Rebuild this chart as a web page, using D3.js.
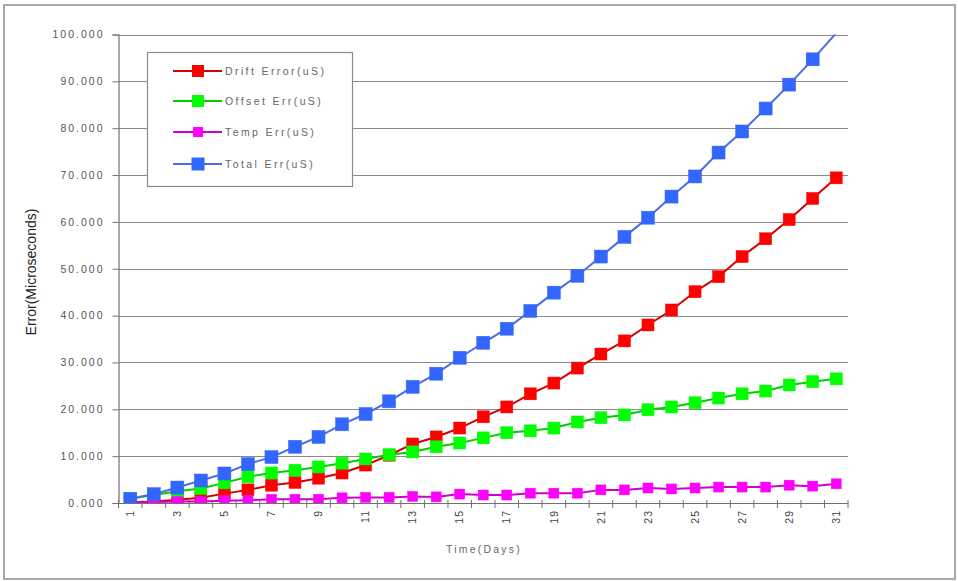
<!DOCTYPE html>
<html><head><meta charset="utf-8">
<script src="https://cdn.jsdelivr.net/npm/d3@7"></script>
<style>body{margin:0;background:#fff;}svg{display:block;font-family:"Liberation Sans",Arial,sans-serif;}</style>
</head><body><svg id="c" width="958" height="581"></svg>
<script>
const days = d3.range(1, 32);
const xTickLabels = [1,3,5,7,9,11,13,15,17,19,21,23,25,27,29,31];
const yTicks = [0,10,20,30,40,50,60,70,80,90,100];
const seriesNames = ["Drift Error(uS)", "Offset Err(uS)", "Temp Err(uS)", "Total Err(uS)"];
const drift  = [0.1,0.3,0.7,1.1,2.0,2.8,3.8,4.4,5.3,6.4,8.1,10.2,12.6,14.1,16.0,18.4,20.5,23.3,25.6,28.8,31.8,34.6,38.0,41.2,45.1,48.3,52.6,56.4,60.5,65.0,69.4];
const offset = [0.9,1.7,2.5,3.1,4.3,5.6,6.4,7.0,7.7,8.5,9.4,10.3,10.9,12.0,12.8,13.9,15.0,15.4,16.0,17.3,18.2,18.8,19.9,20.5,21.4,22.4,23.3,23.9,25.2,25.9,26.5];
const temp   = [0.1,0.2,0.3,0.3,0.5,0.6,0.8,0.8,0.8,1.1,1.2,1.2,1.4,1.3,1.9,1.7,1.7,2.1,2.1,2.1,2.8,2.8,3.2,3.0,3.2,3.4,3.4,3.4,3.8,3.6,4.1];
const total  = [0.9,1.9,3.3,4.8,6.3,8.3,9.8,12.0,14.1,16.8,19.0,21.7,24.8,27.6,31.0,34.2,37.2,41.0,44.9,48.5,52.6,56.8,60.9,65.4,69.7,74.8,79.3,84.2,89.3,94.7,100.3];

const styles = [
  {line:"#d40000", fill:"#ff0000", size:12},
  {line:"#00d000", fill:"#00ff00", size:12},
  {line:"#d000d0", fill:"#ff00ff", size:10},
  {line:"#4a6ee0", fill:"#3366ff", size:13}
];
const series = [drift, offset, temp, total].map((v,i)=>({name:seriesNames[i], values:v, style:styles[i]}));

const svg = d3.select("#c");
const L = 118.5, R = 848, T = 34.5, B = 503;
const x = d3.scaleBand().domain(days).range([L, R]).padding(0);
const xc = d => x(d) + x.bandwidth()/2;
const y = d3.scaleLinear().domain([0,100]).range([B, T]);

// outer frame
svg.append("rect").attr("x",4).attr("y",5).attr("width",951).attr("height",574)
  .attr("fill","none").attr("stroke","#a8a8a8").attr("stroke-width",2);

// gridlines
svg.append("g").selectAll("line").data(yTicks.filter(t=>t>0)).join("line")
  .attr("x1",L).attr("x2",R).attr("y1",d=>Math.round(y(d))+0.5).attr("y2",d=>Math.round(y(d))+0.5)
  .attr("stroke","#8a8a8a").attr("stroke-width",1.2);

// y axis
const yAxis = d3.axisLeft(y).tickValues(yTicks).tickFormat(d3.format(".3f")).tickSize(6).tickPadding(8);
const gy = svg.append("g").attr("transform",`translate(${L},0)`).call(yAxis);
gy.select(".domain").attr("stroke","#707070").attr("stroke-width",1.2);
gy.selectAll(".tick line").attr("stroke","#707070");
gy.selectAll(".tick text").attr("fill","#555").style("font-size","10.5px").style("letter-spacing","2px")
  .attr("font-family","Liberation Sans, Arial, sans-serif");

// x axis
const xAxis = d3.axisBottom(x).tickValues(xTickLabels).tickSize(0).tickPadding(0);
const gx = svg.append("g").attr("transform",`translate(0,${B})`).call(xAxis);
gx.select(".domain").attr("stroke","#707070").attr("stroke-width",1.2);
gx.selectAll(".tick text").attr("transform","rotate(-90)").attr("text-anchor","end")
  .attr("x",-7).attr("y",0).attr("dy","0.35em")
  .attr("fill","#444").style("font-size","10.5px").style("letter-spacing","1px")
  .attr("font-family","Liberation Sans, Arial, sans-serif");
// category boundary ticks
svg.append("g").selectAll("line").data(days.concat([32])).join("line")
  .attr("x1",d=>d<=31 ? x(d) : R).attr("x2",d=>d<=31 ? x(d) : R)
  .attr("y1",B-3).attr("y2",B+5).attr("stroke","#707070").attr("stroke-width",1);

// clip
svg.append("clipPath").attr("id","plot").append("rect")
  .attr("x",L).attr("y",T).attr("width",R-L+2).attr("height",B-T);

const line = d3.line().x((d,i)=>xc(days[i])).y(d=>y(d));
const plot = svg.append("g").attr("clip-path","url(#plot)");
series.forEach(s=>{
  plot.append("path").datum(s.values).attr("d",line).attr("fill","none")
    .attr("stroke",s.style.line).attr("stroke-width",2);
  plot.append("g").selectAll("rect").data(s.values.map((v,i)=>({v,d:days[i]})).filter(p=>p.v<=100)).join("rect")
    .attr("x",p=>xc(p.d)-s.style.size/2).attr("y",p=>y(p.v)-s.style.size/2)
    .attr("width",s.style.size).attr("height",s.style.size)
    .attr("fill",s.style.fill).attr("stroke",s.style.fill).attr("stroke-width",0.5);
});

// axis titles
svg.append("text").attr("transform","translate(36,272) rotate(-90)").attr("text-anchor","middle")
  .attr("fill","#222").style("font-size","14px").text("Error(Microseconds)");
svg.append("text").attr("x",484).attr("y",553).attr("text-anchor","middle")
  .attr("fill","#666").style("font-size","10.5px").style("letter-spacing","2.2px").text("Time(Days)");

// legend
const lg = svg.append("g");
lg.append("rect").attr("x",147.5).attr("y",52.5).attr("width",205).attr("height",134)
  .attr("fill","#fff").attr("stroke","#8a8a8a").attr("stroke-width",1.2);
const legY = [71,101,132,164];
series.forEach((s,i)=>{
  const g = lg.append("g").attr("transform",`translate(0,${legY[i]})`);
  g.append("line").attr("x1",173).attr("x2",222).attr("y1",0).attr("y2",0)
    .attr("stroke",s.style.line).attr("stroke-width",2);
  const sz = s.style.size;
  g.append("rect").attr("x",198-sz/2).attr("y",-sz/2).attr("width",sz).attr("height",sz).attr("fill",s.style.fill);
  g.append("text").attr("x",225).attr("y",0).attr("dy","0.35em").attr("fill","#666")
    .style("font-size","10.5px").style("letter-spacing","2.4px").text(s.name);
});
</script></body></html>
